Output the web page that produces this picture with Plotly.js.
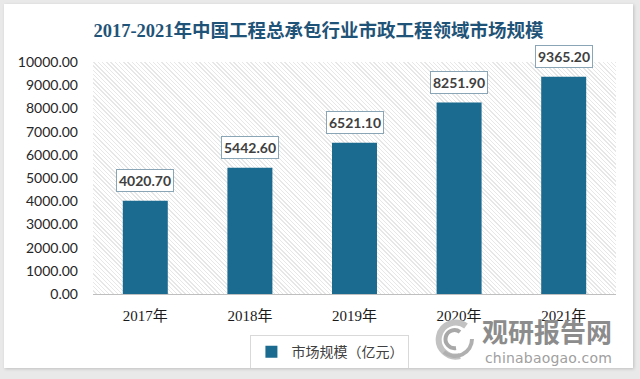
<!DOCTYPE html>
<html><head><meta charset="utf-8">
<script src="https://cdn.plot.ly/plotly-3.0.1.min.js"></script>
<style>
html,body{margin:0;padding:0;background:#e9e9e9;width:640px;height:379px;overflow:hidden;}
#card{position:absolute;left:4px;top:4px;width:629px;height:364px;background:#fff;box-shadow:1px 1px 3px rgba(0,0,0,0.18);}
#hatch{position:absolute;left:89px;top:58px;width:523px;height:232px;z-index:0;
  background:repeating-linear-gradient(45deg,#ffffff 0px,#ffffff 2px,#e7e7e7 2px,#e7e7e7 3px);}
#chart{position:absolute;left:0;top:0;width:629px;height:364px;z-index:1;}
#chart .main-svg{background:transparent !important;}
.wm{position:absolute;z-index:2;white-space:nowrap;line-height:1;}
#wm1{right:28px;top:312px;font:bold 26px "Noto Sans CJK SC",sans-serif;color:#8c8c8c;}
#wm2{right:28px;top:350px;font:14px "DejaVu Sans",sans-serif;color:#a0a0a0;letter-spacing:0.2px;}
#logo{position:absolute;left:430px;top:319px;z-index:2;}
</style></head>
<body><div id="card"><div id="hatch"></div><div id="chart"></div></div>
<svg id="logo" width="48" height="42" viewBox="0 0 48 42">
  <path d="M 36 7 A 17 17 0 1 0 30 37" fill="none" stroke="#c2c2c2" stroke-width="6"/>
  <path d="M 14 33 A 17 17 0 0 0 42 20" fill="none" stroke="#b0b0b0" stroke-width="4"/>
  <path d="M 30 13 A 9 9 0 1 0 26 29" fill="none" stroke="#a8a8a8" stroke-width="4"/>
</svg>
<div class="wm" id="wm1">观研报告网</div>
<div class="wm" id="wm2">chinabaogao.com</div>
<script>
const categories = ['2017年','2018年','2019年','2020年','2021年'];
const marketSize = [4020.70, 5442.60, 6521.10, 8251.90, 9365.20];
const seriesName = '市场规模（亿元）';
const titleText = '2017-2021年中国工程总承包行业市政工程领域市场规模';

const trace = {
  type:'bar', x:categories, y:marketSize, name:seriesName,
  marker:{color:'#1b6a8f'}, hoverinfo:'none', showlegend:true
};

const labelAnn = categories.map((c,i)=>({
  x:c, y:marketSize[i], xref:'x', yref:'y', text:marketSize[i].toFixed(2),
  showarrow:false, yanchor:'bottom', yshift:9,
  font:{family:'Lato, "Open Sans", sans-serif', size:14, color:'#404040', weight:'bold'},
  bgcolor:'#ffffff', bordercolor:'#8aa6b6', borderwidth:1, borderpad:2
}));

const layout = {
  width:629, height:364,
  margin:{l:89, r:17, t:58, b:74, autoexpand:false},
  paper_bgcolor:'rgba(0,0,0,0)', plot_bgcolor:'rgba(0,0,0,0)',
  title:{text:titleText, x:0.5, xanchor:'center', xref:'container', y:1-27/364, yanchor:'middle',
    font:{family:'"Liberation Serif", "Noto Sans CJK SC", serif', size:18.5, color:'#1f5478', weight:'bold'}},
  bargap:0.57,
  xaxis:{type:'category', showgrid:false, zeroline:false, showline:true, linecolor:'#bfbfbf', linewidth:1,
    ticks:'', ticklabelstandoff:8,
    tickfont:{family:'"Liberation Serif", "Noto Sans CJK SC", serif', size:15, color:'#1a1a1a'}},
  yaxis:{range:[0,10000], dtick:1000, tick0:0, tickformat:'.2f', showgrid:false, zeroline:false, showline:false,
    ticks:'', ticklabelstandoff:14,
    tickfont:{family:'Lato, "Open Sans", sans-serif', size:14, color:'#262626'}},
  legend:{orientation:'h', x:0.453, xanchor:'center', y:-0.177, yanchor:'top',
    bgcolor:'#ffffff', bordercolor:'#d9d9d9', borderwidth:1,
    font:{family:'"Noto Sans CJK SC", sans-serif', size:14, color:'#404040'}},
  annotations: labelAnn
};

Plotly.newPlot('chart', [trace], layout, {staticPlot:true, displayModeBar:false});
</script></body></html>
